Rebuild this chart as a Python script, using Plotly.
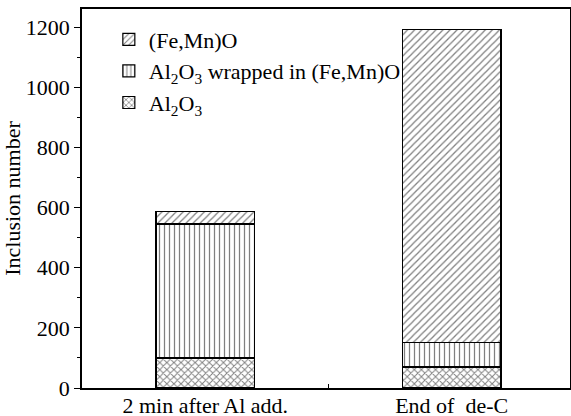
import plotly.graph_objects as go

categories = ["2 min after Al add.", "End of  de-C"]
al2o3 = [100, 70]
wrapped = [445, 82]
femno = [42, 1040]

series = [
    ("Al<sub>2</sub>O<sub>3</sub>", al2o3, "x", 5, 0.35),
    ("Al<sub>2</sub>O<sub>3</sub> wrapped in (Fe,Mn)O", wrapped, "|", 5, 0.25),
    ("(Fe,Mn)O", femno, "/", 5, 0.25),
]

fig = go.Figure()
for name, vals, shape, sz, sol in series:
    fig.add_trace(go.Bar(
        x=categories, y=vals, name=name, width=0.4,
        marker=dict(color="white", line=dict(color="black", width=1.2),
                    pattern=dict(shape=shape, fgcolor="black", bgcolor="white",
                                 size=sz, solidity=sol)),
    ))

font = dict(family="Liberation Serif, Times New Roman, serif", size=22, color="black")
fig.update_layout(
    barmode="stack",
    width=571, height=416,
    margin=dict(l=82, r=1, t=9, b=28, autoexpand=False),
    plot_bgcolor="white", paper_bgcolor="white",
    font=font,
    showlegend=True,
    legend=dict(x=0.055, y=0.975, xanchor="left", yanchor="top", traceorder="reversed",
                bgcolor="rgba(0,0,0,0)", font=font, itemwidth=30, tracegroupgap=0,
                borderwidth=0),
)
fig.update_xaxes(
    type="category", range=[-0.5, 1.48], showline=True, linecolor="black", linewidth=1.5,
    mirror=True, ticks="inside", tickson="boundaries", ticklen=4, tickcolor="black",
    showgrid=False, tickfont=font, automargin=False, ticklabelstandoff=-3,
)
fig.update_yaxes(
    range=[0, 1260], dtick=200, showline=True, linecolor="black", linewidth=1.5,
    mirror=True, ticks="outside", ticklen=6, tickcolor="black", showgrid=False, zeroline=False,
    minor=dict(dtick=100, ticks="outside", ticklen=3, tickcolor="black"),
    title=dict(text="Inclusion number", font=font, standoff=4), tickfont=font,
    automargin=False,
)
fig.write_html(
    "out.html",
    config={"displayModeBar": False},
    post_script="document.body.style.margin='0';document.body.style.overflow='hidden';",
)
